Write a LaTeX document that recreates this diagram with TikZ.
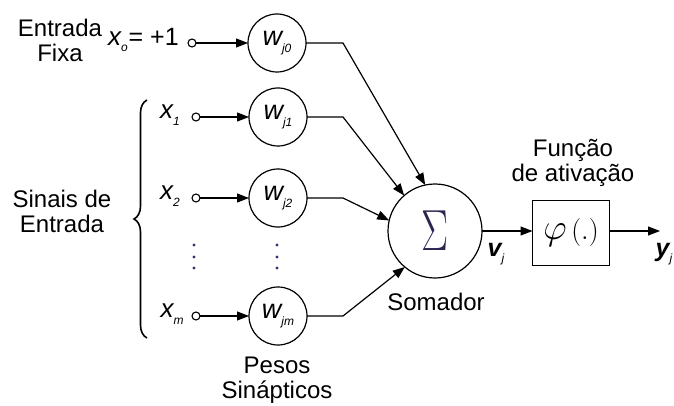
\documentclass[tikz,border=0pt]{standalone}
\usepackage{fix-cm}
\usepackage{fontspec}
\setmainfont{Liberation Sans}
\usetikzlibrary{arrows.meta,decorations.pathreplacing}
\newcommand{\sublbl}[2]{{\itshape #1\raisebox{-0.5ex}{\fontsize{12}{12}\selectfont #2}}}
\definecolor{dotc}{HTML}{3C2D6E}
\definecolor{sigc}{HTML}{2E2452}
\begin{document}
\begin{tikzpicture}[x=1pt,y=-1pt,
  every node/.style={inner sep=0pt,outer sep=0pt},
  lbl/.style={font=\fontsize{24}{25}\selectfont,align=center},
  wcirc/.style={draw,circle,line width=1.2pt,minimum size=58pt,font=\fontsize{27}{27}\selectfont},
  incirc/.style={draw,circle,line width=1.1pt,minimum size=8pt},
  xl/.style={font=\fontsize{26}{26}\selectfont},
  arr/.style={line width=1.2pt,-{Triangle[length=12pt,width=9pt]}},
  ln/.style={line width=1.2pt}]
\useasboundingbox (0,0) rectangle (674,406);
% weights
\node[wcirc] (w0) at (277,43) {\sublbl{w}{j0}};
\node[wcirc] (w1) at (278,117) {\sublbl{w}{j1}};
\node[wcirc] (w2) at (278,198) {\sublbl{w}{j2}};
\node[wcirc] (wm) at (278,316) {\sublbl{w}{jm}};
% inputs
\node[incirc] (i0) at (192,43) {};
\node[incirc] (i1) at (196,117) {};
\node[incirc] (i2) at (196,198) {};
\node[incirc] (im) at (196,316) {};
\node[xl,anchor=west] (x0) at (108,40) {\sublbl{x}{o}{\fontsize{25}{25}\selectfont\hspace{1pt}= +1}};
\node[xl] (x1) at (170,115) {\sublbl{x}{1}};
\node[xl] (x2) at (170,196) {\sublbl{x}{2}};
\node[xl] (xm) at (172,314) {\sublbl{x}{m}};
% summation
\node[draw,circle,line width=1.2pt,minimum size=94pt,text=sigc,font=\fontsize{58}{58}\selectfont] (sum) at (435,231) {\scalebox{0.7}[1]{$\Sigma$}};
\node[draw,line width=1.2pt,minimum width=77pt,minimum height=65pt,font=\fontsize{28}{28}\selectfont] (phi) at (571,233) {\scalebox{1.3}{$\varphi$}\,$(.)$};
\coordinate (out) at (660,231);
% connectors
\draw[arr] (i0) -- (w0);
\draw[arr] (i1) -- (w1);
\draw[arr] (i2) -- (w2);
\draw[arr] (im) -- (wm);
\coordinate (b0) at (343,43);
\coordinate (b1) at (343,117);
\coordinate (b2) at (343,198);
\coordinate (bm) at (343,316);
\draw[arr] (w0.east) -- (b0) -- (sum.102);
\draw[arr] (w1.east) -- (b1) -- (sum.131);
\draw[arr] (w2.east) -- (b2) -- (sum.167);
\draw[arr] (wm.east) -- (bm) -- (sum.230);
\draw[arr] (sum.east) -- (phi.west |- sum.east);
\draw[arr] (phi.east |- out) -- (out);
% dots
\foreach \yy in {245,257,268}{
  \fill[dotc] (194,\yy) circle (1.6pt);
  \fill[dotc] (277,\yy) circle (1.6pt);
}
% brace
\draw[line width=1.6pt,decorate,decoration={brace,amplitude=13pt}] (147,338) -- (147,100);
% labels
\node[lbl] (tfixa) at (60,40) {Entrada\\Fixa};
\node[lbl] (tsinais) at (62,211) {Sinais de\\Entrada};
\node[lbl] (tpesos) at (277,380) {Pesos\\Sinápticos};
\node[lbl] (tsom) at (436,302) {Somador};
\node[lbl] (tfunc) at (573,163) {Função\\de ativação};
\node[font=\bfseries\itshape\fontsize{25}{25}\selectfont] (vj) at (496,254) {v\raisebox{-0.5ex}{\fontsize{12}{12}\selectfont\mdseries j}};
\node[font=\bfseries\itshape\fontsize{25}{25}\selectfont] (yj) at (664,254) {y\raisebox{-0.5ex}{\fontsize{12}{12}\selectfont\mdseries j}};
\end{tikzpicture}
\end{document}
